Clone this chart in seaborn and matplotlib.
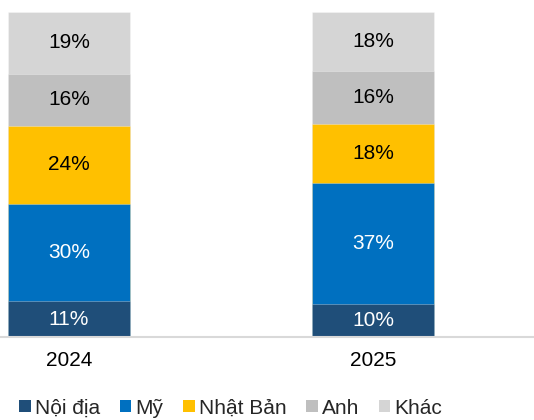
import matplotlib
matplotlib.use("Agg")
import matplotlib.pyplot as plt
import seaborn as sns
import numpy as np
import pandas as pd
from matplotlib.patches import Patch

years = ["2024", "2025"]
series = ["Nội địa", "Mỹ", "Nhật Bản", "Anh", "Khác"]
noi_dia = [11, 10]
my = [30, 37]
nhat_ban = [24, 18]
anh = [16, 16]
khac = [19, 18]
colors = ["#1F4E79", "#0070C0", "#FFC000", "#BFBFBF", "#D5D5D5"]
text_colors = ["white", "white", "black", "black", "black"]

sns.set_theme(style="white")
plt.rcParams["font.family"] = ["Liberation Sans", "DejaVu Sans"]

values = np.array([noi_dia, my, nhat_ban, anh, khac], dtype=float)
shares = values / values.sum(axis=0) * 100
cum = np.cumsum(shares, axis=0)

fig = plt.figure(figsize=(5.34, 4.2), dpi=100)
ax = fig.add_axes([0, (420 - 337) / 420, 1, (337 - 12) / 420])

width = 122 / 304
for i in range(len(series) - 1, -1, -1):
    df = pd.DataFrame({"year": years, "val": cum[i]})
    sns.barplot(data=df, x="year", y="val", color=colors[i], width=width,
                saturation=1, ax=ax, edgecolor=(1, 1, 1, 0.35), linewidth=0.6)

for j in range(len(years)):
    for i in range(len(series)):
        mid = cum[i, j] - shares[i, j] / 2
        ax.text(j, mid, f"{int(values[i, j])}%", ha="center", va="center",
                fontsize=15, color=text_colors[i])

ax.set_xlim(-69 / 304, 1 + (534 - 373) / 304)
ax.set_ylim(0, 100)
ax.set_xlabel("")
ax.set_ylabel("")
ax.set_yticks([])
ax.tick_params(axis="x", length=0, labelsize=15, pad=10, colors="black")
for s in ["top", "right", "left"]:
    ax.spines[s].set_visible(False)
ax.spines["bottom"].set_color("#D9D9D9")
ax.spines["bottom"].set_linewidth(1.5)

handles = [Patch(facecolor=c, edgecolor="none") for c in colors]
fig.legend(handles, series, loc="center", bbox_to_anchor=(0.432, 12 / 420),
           ncol=5, frameon=False, fontsize=15, handlelength=0.55,
           handleheight=0.55, handletextpad=0.2, columnspacing=0.95,
           borderpad=0)

fig.savefig("out.png", dpi=100)
